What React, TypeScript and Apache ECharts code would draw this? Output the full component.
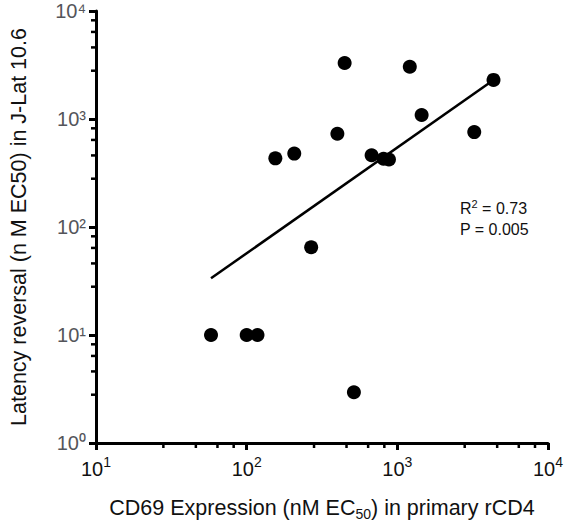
import React, { useEffect, useRef } from "react";
import * as echarts from "echarts";

// CD69 expression EC50 (nM) in primary rCD4
const xValues = [58, 100, 118, 155, 207, 268, 400, 447, 515, 675, 810, 880, 1210, 1450, 3240, 4350];
// Latency reversal EC50 (nM) in J-Lat 10.6
const yValues = [10, 10, 10, 432, 478, 65, 730, 3300, 2.95, 462, 428, 422, 3050, 1090, 756, 2300];
// Regression fit line endpoints
const fitX = [58, 4350];
const fitY = [33.5, 2300];
// Axis ranges / ticks
const xRange = [10, 10000];
const yRange = [1, 10000];
const minorSteps = [2.8, 4.6, 6.4, 8.2];
const xDecades = [10, 100, 1000];
const yDecades = [1, 10, 100, 1000];
const supDigits = ["⁰", "¹", "²", "³", "⁴"];
const statLines = ["R", "2", " = 0.73", "P = 0.005"];

const FONT = "'Liberation Sans', Arial, Helvetica, sans-serif";

function powLabel(v: number) {
  const e = Math.round(Math.log10(v));
  return `{b|10}{s|${e}}`;
}

function powLabelPlain(v: number) {
  const e = Math.round(Math.log10(v));
  return "10" + (supDigits[e] ?? String(e));
}

const richPow = {
  b: { fontSize: 20, fontFamily: FONT, color: "#111" },
  s: { fontSize: 14, fontFamily: FONT, color: "#111", padding: [0, 0, 14, 0] },
};

const minorOf = (decades: number[]) =>
  decades.flatMap((d) => minorSteps.map((m) => +(d * m).toPrecision(3)));

const statText = {
  type: "text",
  left: 460,
  top: 198,
  style: {
    text: `{a|${statLines[0]}}{s|${statLines[1]}}{a|${statLines[2]}}\n{a|${statLines[3]}}`,
    rich: {
      a: { fontSize: 16, fontFamily: FONT, fill: "#111", lineHeight: 21 },
      s: { fontSize: 11, fontFamily: FONT, fill: "#111", padding: [0, 0, 10, 0], lineHeight: 21 },
    },
  },
};

export default function App() {
  const ref = useRef<HTMLDivElement>(null);
  useEffect(() => {
    document.body.style.margin = "0";
    const chart = echarts.init(ref.current!, null, { renderer: "svg" });
    const points = xValues.map((x, i) => [x, yValues[i]]);
    const fit = fitX.map((x, i) => [x, fitY[i]]);
    chart.setOption({
      animation: false,
      backgroundColor: "#fff",
      grid: { left: 90, right: 18, top: 11, bottom: 86 },
      xAxis: [
        {
          type: "log",
          logBase: 10,
          min: xRange[0],
          max: xRange[1],
          splitLine: { show: false },
          name: "{a|CD69 Expression (nM EC}{sub|50}{a|) in primary rCD4}",
          nameLocation: "middle",
          nameGap: 52,
          nameTextStyle: {
            rich: {
              a: { fontSize: 21.5, fontFamily: FONT, color: "#111" },
              sub: { fontSize: 14, fontFamily: FONT, color: "#111", padding: [12, 0, 0, 0] },
            },
          },
          axisLine: { show: true, onZero: false, lineStyle: { color: "#000", width: 3 } },
          axisTick: { show: true, inside: false, length: 7, lineStyle: { color: "#000", width: 3 } },
          axisLabel: { fontSize: 20, color: "#111", fontFamily: FONT, formatter: powLabel, rich: richPow, margin: 12 },
        },
      ],
      yAxis: [
        {
          type: "log",
          logBase: 10,
          min: yRange[0],
          max: yRange[1],
          splitLine: { show: false },
          name: "Latency reversal (n M EC50) in J-Lat 10.6",
          nameLocation: "middle",
          nameGap: 66,
          nameTextStyle: { fontSize: 21.5, fontFamily: FONT, color: "#111" },
          axisLine: { show: true, onZero: false, lineStyle: { color: "#000", width: 3 } },
          axisTick: { show: true, length: 7, lineStyle: { color: "#000", width: 3 } },
          axisLabel: { formatter: powLabelPlain, fontSize: 20, margin: 10 },
        },
      ],
      series: [
        {
          type: "line",
          data: fit,
          showSymbol: false,
          lineStyle: { color: "#000", width: 2.5 },
          silent: true,
        },
        {
          type: "scatter",
          data: points,
          symbol: "circle",
          symbolSize: 14,
          itemStyle: { color: "#000", opacity: 1 },
        },
      ],
      graphic: [statText],
    });

    // minor ticks, positioned through the axes' own scales
    const ticks: any[] = [];
    try {
      const y0 = chart.convertToPixel({ yAxisIndex: 0 }, yRange[0]) as number;
      const x0 = chart.convertToPixel({ xAxisIndex: 0 }, xRange[0]) as number;
      minorOf(xDecades).forEach((v) => {
        const px = chart.convertToPixel({ xAxisIndex: 0 }, v) as number;
        ticks.push({
          type: "line",
          silent: true,
          z: 100,
          shape: { x1: px, y1: y0, x2: px, y2: y0 + 5 },
          style: { stroke: "#000", lineWidth: 2.5 },
        });
      });
      minorOf(yDecades).forEach((v) => {
        const py = chart.convertToPixel({ yAxisIndex: 0 }, v) as number;
        ticks.push({
          type: "line",
          silent: true,
          z: 100,
          shape: { x1: x0, y1: py, x2: x0 - 5, y2: py },
          style: { stroke: "#000", lineWidth: 2.5 },
        });
      });
    } catch (e) {
      // ignore
    }
    if (ticks.length && ticks.every((t) => isFinite(t.shape.x1) && isFinite(t.shape.y1))) {
      chart.setOption({ graphic: [statText, ...ticks] }, { replaceMerge: ["graphic"] });
    }
    return () => chart.dispose();
  }, []);
  return <div ref={ref} style={{ width: 566, height: 529 }} />;
}
